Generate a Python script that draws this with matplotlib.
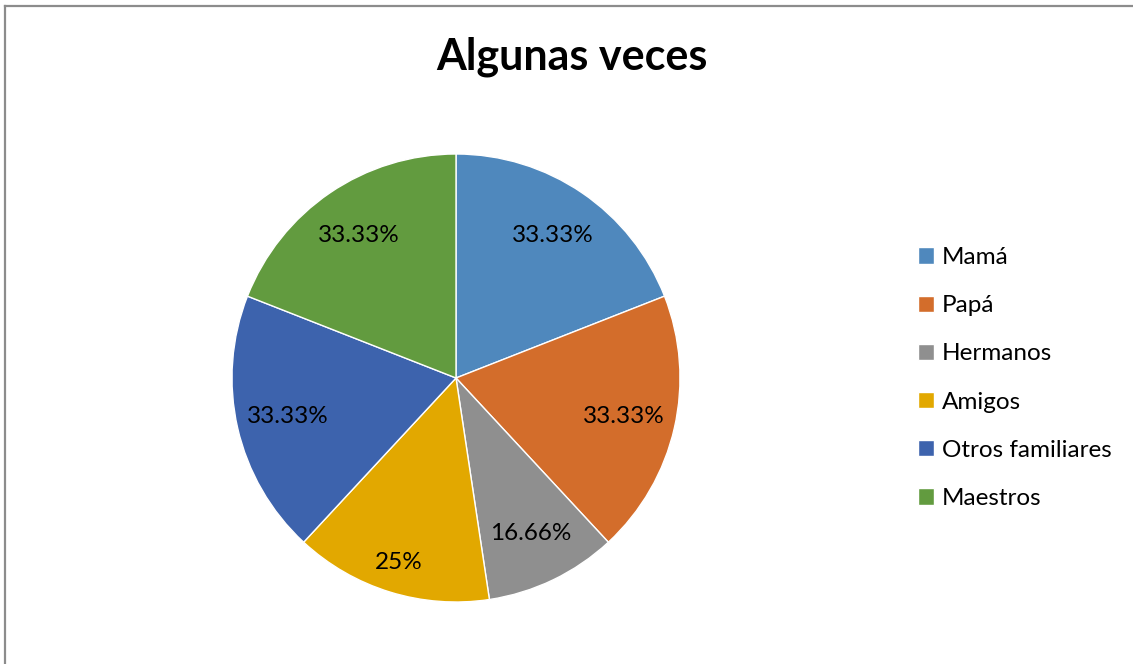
import numpy as np
import matplotlib.pyplot as plt
from matplotlib.lines import Line2D

# Datos del gráfico
categorias = ['Mamá', 'Papá', 'Hermanos', 'Amigos', 'Otros familiares', 'Maestros']
valores = [33.33, 33.33, 16.66, 25, 33.33, 33.33]
etiquetas = ['33.33%', '33.33%', '16.66%', '25%', '33.33%', '33.33%']
colores = ['#4F88BD', '#D36D2B', '#8F8F8F', '#E2A800', '#3D63AD', '#629B3F']
titulo = 'Algunas veces'

plt.rcParams['font.family'] = ['Lato', 'DejaVu Sans']

fig = plt.figure(figsize=(11.33, 6.64), dpi=100)

# Marco gris (solo se ven los bordes superior e izquierdo)
x0, y0 = 5 / 1133, 1 - 6 / 664
fig.add_artist(Line2D([x0, x0], [0, y0], color='#8C8C8C', lw=1.6))
fig.add_artist(Line2D([x0, 1], [y0, y0], color='#8C8C8C', lw=1.6))

# Eje de la torta (centro ~ (456, 378), radio ~ 224 px)
ax = fig.add_axes([232 / 1133, 62 / 664, 448 / 1133, 448 / 664])
wedges, textos = ax.pie(valores, colors=colores, startangle=90, counterclock=False,
                        labels=etiquetas, labeldistance=0.77,
                        wedgeprops=dict(linewidth=1, edgecolor='white'),
                        textprops=dict(fontsize=17.5, color='black', ha='center', va='center'))
for t in textos:
    t.set_horizontalalignment('center')
# la etiqueta de Amigos queda un poco más afuera
x, y = textos[3].get_position()
textos[3].set_position((x * 0.86 / 0.77, y * 0.86 / 0.77))
ax.set_xlim(-1, 1)
ax.set_ylim(-1, 1)

fig.text(572 / 1133, 1 - 57 / 664, titulo, ha='center', va='center',
         fontsize=31, fontweight='bold')

fig.legend(wedges, categorias, loc='center left', bbox_to_anchor=(896 / 1133, 1 - 378 / 664),
           frameon=False, fontsize=17.5, handlelength=0.65, handleheight=0.65,
           handletextpad=0.35, labelspacing=1.12)

fig.savefig('out.png', dpi=100)
